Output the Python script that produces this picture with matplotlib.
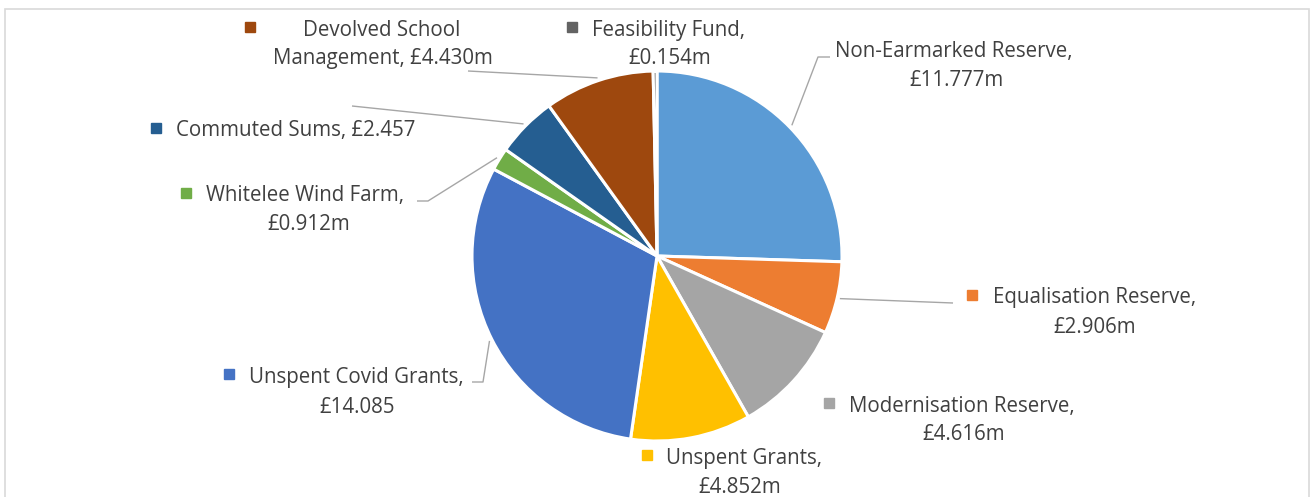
import numpy as np
import matplotlib
matplotlib.use("Agg")
import matplotlib.pyplot as plt
from matplotlib.patches import Rectangle

plt.rcParams['font.family'] = ['Open Sans', 'DejaVu Sans']

# reserves, in order clockwise from 12 o'clock
names = ["Non-Earmarked Reserve", "Equalisation Reserve", "Modernisation Reserve",
         "Unspent Grants", "Unspent Covid Grants", "Whitelee Wind Farm",
         "Commuted Sums", "Devolved School Management", "Feasibility Fund"]
values = [11.777, 2.906, 4.616, 4.852, 14.085, 0.912, 2.457, 4.430, 0.154]
value_text = ["£11.777m", "£2.906m", "£4.616m", "£4.852m", "£14.085",
              "£0.912m", "£2.457", "£4.430m", "£0.154m"]
colors = ['#5B9BD5', '#ED7D31', '#A5A5A5', '#FFC000', '#4472C4',
          '#70AD47', '#255E91', '#9E480E', '#636363']

W, H = 1311, 497
TXT = '#404040'
LEAD = '#A6A6A6'

fig = plt.figure(figsize=(W / 100, H / 100), dpi=100)
ax = fig.add_axes([0, 0, 1, 1])

# chart border
fig.patches.append(Rectangle((5 / W, -0.05), 1304 / W, 1.05 - 9 / H, transform=fig.transFigure,
                             fill=False, edgecolor='#D9D9D9', linewidth=1.2))

cx, cy, r = 657, H - 256, 185
wedges, _ = ax.pie(values, colors=colors, startangle=90, counterclock=False,
                   center=(cx, cy), radius=r, frame=True,
                   wedgeprops=dict(edgecolor='white', linewidth=2.2))
ax.set_xlim(0, W)
ax.set_ylim(0, H)
ax.set_aspect('equal')
ax.axis('off')


def y(v):
    return H - v


# label layout (image pixel coords): marker x, marker y, text left x, baseline 1,
# line-2 centre x, baseline 2, first-line text, second-line text
layout = {
    0: (None, None, 835, 57, 956, 86, "Non-Earmarked Reserve,", value_text[0]),
    1: (972, 295, 993, 303, 1095, 333, "Equalisation Reserve,", value_text[1]),
    2: (829, 403, 849, 412, 964, 440, "Modernisation Reserve,", value_text[2]),
    3: (647, 455, 666, 464, 740, 493, "Unspent Grants,", value_text[3]),
    4: (229, 374, 249, 383, 357, 413, "Unspent Covid Grants,", value_text[4]),
    5: (186, 193, 206, 201, 309, 230, "Whitelee Wind Farm,", value_text[5]),
    6: (156, 128, 176, 136, None, None, "Commuted Sums, " + value_text[6], None),
    7: (250, 27, 303, 36, 383, 64, "Devolved School", "Management, " + value_text[7]),
    8: (572, 27, 592, 36, 670, 64, "Feasibility Fund,", value_text[8]),
}

fs = 14.8
for i, (mx, my, tx, b1, c2, b2, t1, t2) in layout.items():
    if mx is not None:
        ax.plot([mx], [y(my)], marker='s', markersize=6.5, color=colors[i], linestyle='none')
    ax.text(tx, y(b1), t1, fontsize=fs, color=TXT, ha='left', va='baseline')
    if t2:
        ax.text(c2, y(b2), t2, fontsize=fs, color=TXT, ha='center', va='baseline')

# leader lines: from the label towards the middle of each wedge's rim
leaders = {
    0: [(830, 57), (818, 57)],
    1: [(953, 303)],
    4: [(472, 382), (483, 382)],
    5: [(417, 201), (428, 201)],
    6: [(352, 106)],
    7: [(468, 71)],
}
cum = np.cumsum([0] + values)
total = cum[-1]
for i, pts in leaders.items():
    mid = (cum[i] + cum[i + 1]) / 2 / total
    ang = np.deg2rad(90 - 360 * mid)
    ex = cx + r * 1.015 * np.cos(ang)
    ey = cy + r * 1.015 * np.sin(ang)
    xs = [p[0] for p in pts] + [ex]
    ys = [y(p[1]) for p in pts] + [ey]
    ax.plot(xs, ys, color=LEAD, linewidth=1.0, solid_capstyle='butt')

fig.savefig("out.png", dpi=100)
